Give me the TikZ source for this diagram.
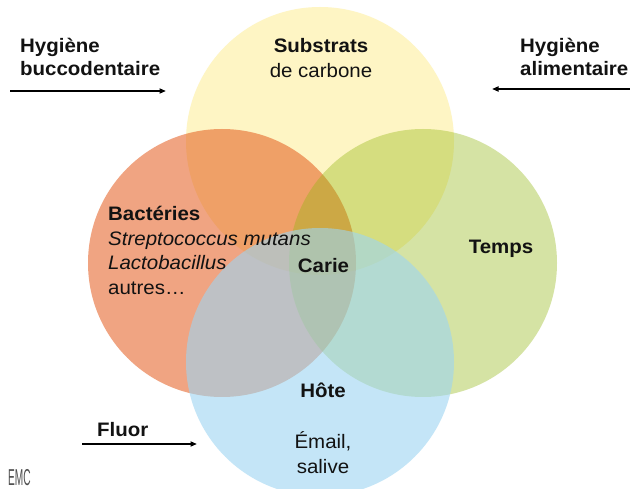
\documentclass[tikz,border=0pt]{standalone}
\usepackage{fontspec}
\setmainfont{Liberation Sans}[FakeStretch=1.05]
\usetikzlibrary{arrows.meta}
\definecolor{cyellow}{RGB}{254,245,196}
\definecolor{corange}{RGB}{228,91,28}
\definecolor{cgreen}{RGB}{147,182,16}
\definecolor{cblue}{RGB}{157,213,242}
\definecolor{txt}{RGB}{18,18,18}
\definecolor{logo}{RGB}{80,80,80}
\begin{document}
\begin{tikzpicture}[x=1pt,y=-1pt,
  lbl/.style={font=\fontsize{19.5}{24.6}\selectfont, text=txt, inner sep=0pt},
  bl/.style={lbl, font=\fontsize{19.5}{24.6}\selectfont\bfseries},
  it/.style={lbl, font=\fontsize{19.5}{24.6}\selectfont\itshape},
  disc/.style={circle, minimum size=268pt, inner sep=0pt, draw=none},
  arr/.style={line width=1.7pt, draw=black, -{Triangle[length=6.5pt,width=5pt]}}]
\useasboundingbox (0,0) rectangle (630,489);
\clip (0,0) rectangle (630,489);
\fill[white] (0,0) rectangle (630,489);
% circles
\node[disc, fill=cyellow] (cy) at (320,141) {};
\node[disc, fill=corange, fill opacity=0.55] (co) at (222,263) {};
\node[disc, fill=cgreen, fill opacity=0.38] (cg) at (423,263) {};
\node[disc, fill=cblue, fill opacity=0.6] (cb) at (320,362) {};
% left top label
\node[bl, anchor=base west] (hb1) at (20,53) {Hygiène};
\node[bl, anchor=base west] (hb2) at (20,76) {buccodentaire};
\coordinate (a1s) at (10,91);
\coordinate (a1e) at (166,91);
\draw[arr] (a1s) -- (a1e);
% right top label
\node[bl, anchor=base west] (ha1) at (520,53) {Hygiène};
\node[bl, anchor=base west] (ha2) at (520,76) {alimentaire};
\coordinate (a2s) at (631,89);
\coordinate (a2e) at (492,89);
\draw[arr] (a2s) -- (a2e);
% substrats
\node[bl, anchor=base] (sub1) at (321,53) {Substrats};
\node[lbl, anchor=base] (sub2) at (321,78) {de carbone};
% bacteries
\node[bl, anchor=base west] (bac1) at (108,221) {Bactéries};
\node[it, anchor=base west] (bac2) at (108,245.5) {Streptococcus mutans};
\node[it, anchor=base west] (bac3) at (108,270) {Lactobacillus};
\node[lbl, anchor=base west] (bac4) at (108,295) {autres…};
% carie, temps
\node[bl, anchor=base] (carie) at (323.5,273) {Carie};
\node[bl, anchor=base] (temps) at (501,254) {Temps};
% hote
\node[bl, anchor=base] (hote) at (323,398) {Hôte};
\node[lbl, anchor=base] (email) at (323,448) {Émail,};
\node[lbl, anchor=base] (salive) at (323,473) {salive};
% fluor
\node[bl, anchor=base west] (fluor) at (97,436) {Fluor};
\coordinate (a3s) at (82,444);
\coordinate (a3e) at (197,444);
\draw[arr] (a3s) -- (a3e);
% logo
\node[font=\fontsize{23}{23}\selectfont, text=logo, inner sep=0pt, anchor=base west, xscale=0.42] (emc) at (8,485) {EMC};
\end{tikzpicture}
\end{document}
